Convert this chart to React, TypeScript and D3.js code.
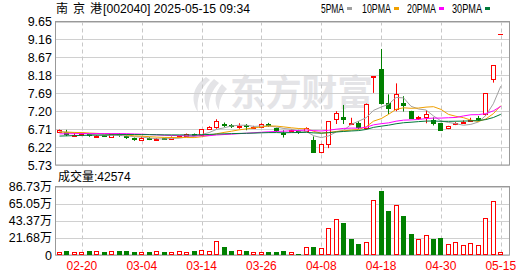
import React from "react";
import * as d3 from "d3";

const W = 530;
const H = 276;

const dates = [
  "02-17","02-18","02-19","02-20","02-21","02-24","02-25","02-26","02-27","02-28",
  "03-03","03-04","03-05","03-06","03-07","03-10","03-11","03-12","03-13","03-14",
  "03-17","03-18","03-19","03-20","03-21","03-24","03-25","03-26","03-27","03-28",
  "03-31","04-01","04-02","04-03","04-07","04-08","04-09","04-10","04-11","04-14",
  "04-15","04-16","04-17","04-18","04-21","04-22","04-23","04-24","04-25","04-28",
  "04-29","04-30","05-06","05-07","05-08","05-09","05-12","05-13","05-14","05-15",
];

const opens = [
  6.64,6.62,6.54,6.55,6.57,6.51,6.54,6.50,6.57,6.53,
  6.47,6.41,6.48,6.42,6.46,6.43,6.49,6.52,6.58,6.56,
  6.71,6.76,6.86,6.81,6.77,6.82,6.76,6.76,6.86,6.73,
  6.61,6.65,6.67,6.66,6.41,6.09,6.30,6.98,7.03,6.85,
  6.88,6.73,8.14,8.34,7.42,7.25,7.43,7.20,7.01,7.05,
  6.96,6.87,6.73,6.85,6.88,6.94,7.01,7.12,8.08,9.31,
];
const highs = [
  6.70,6.69,6.60,6.59,6.58,6.55,6.55,6.58,6.60,6.54,
  6.48,6.51,6.49,6.47,6.47,6.51,6.53,6.59,6.59,6.71,
  6.79,6.98,6.89,6.85,6.87,6.85,6.80,6.87,6.88,6.75,
  6.68,6.70,6.69,6.76,6.51,6.31,6.93,7.20,7.37,7.02,
  6.93,7.41,8.15,8.90,7.66,7.96,7.61,7.21,7.07,7.23,
  7.03,6.88,6.80,6.90,6.95,7.02,7.07,7.69,8.46,9.31,
];
const lows = [
  6.62,6.52,6.50,6.52,6.50,6.50,6.50,6.48,6.50,6.44,
  6.39,6.40,6.41,6.41,6.42,6.42,6.47,6.51,6.52,6.55,
  6.69,6.72,6.77,6.74,6.72,6.68,6.74,6.75,6.77,6.63,
  6.48,6.62,6.58,6.63,6.06,6.05,6.19,6.85,6.85,6.82,
  6.70,6.70,7.70,7.38,7.12,7.20,7.19,6.99,6.96,6.87,
  6.81,6.66,6.71,6.82,6.85,6.92,6.93,7.07,7.98,9.31,
];
const closes = [
  6.69,6.55,6.56,6.57,6.52,6.53,6.52,6.57,6.54,6.47,
  6.41,6.48,6.43,6.45,6.43,6.50,6.51,6.58,6.53,6.70,
  6.76,6.94,6.80,6.78,6.80,6.76,6.78,6.85,6.79,6.66,
  6.55,6.69,6.60,6.73,6.07,6.30,6.93,7.14,6.96,6.87,
  6.73,7.41,8.15,7.40,7.26,7.66,7.35,7.00,7.03,7.12,
  6.85,6.67,6.79,6.87,6.90,6.97,6.99,7.69,8.46,9.31,
];
// volumes in 万手
const volumes = [
  3.8,5.5,3.8,3.8,5.1,4.7,3.8,4.7,5.1,5.1,
  3.8,3.8,3.8,4.7,3.8,3.8,4.7,3.8,5.1,6.0,
  4.7,17.5,10.2,5.1,6.0,5.1,3.4,3.4,3.8,3.8,
  5.1,3.4,1.3,9.8,10.2,8.5,34.0,45.5,40.8,20.4,
  14.0,16.2,69.8,81.6,56.1,63.4,49.7,26.8,20.0,25.1,
  20.4,21.7,13.6,16.2,12.4,14.9,12.4,46.8,68.5,4.2574,
];
// closes before the visible window (used only for the moving averages)
const priorCloses = [
  6.35,6.38,6.40,6.37,6.42,6.40,6.43,6.41,6.39,6.45,
  6.48,6.50,6.52,6.55,6.51,6.53,6.56,6.54,6.52,6.57,
  6.60,6.63,6.61,6.65,6.62,6.64,6.60,6.63,6.65,
];

const priceTicks = [5.73, 6.22, 6.71, 7.20, 7.69, 8.18, 8.67, 9.16, 9.65];
const volTicks = [0, 21.68, 43.37, 65.05, 86.73];
const dateTicks = ["02-20","03-04","03-14","03-26","04-08","04-18","04-30","05-15"];
const maPeriods = [5, 10, 20, 30];
const maNames = ["5PMA", "10PMA", "20PMA", "30PMA"];
const maColors = ["#a0a0a0", "#f0a000", "#ff00ff", "#007a3a"];

const RED = "#ff0000";
const GREEN = "#008000";
const NUM_FONT = "'Liberation Sans', Arial, sans-serif";
const CJK_FONT = "'Noto Sans CJK SC', sans-serif";

const PL = 55.5, PR = 509.5;
const PT = 21.5, PB = 165;
const VT = 186.5, VB = 255;

export default function App() {
  const x = d3.scalePoint<string>().domain(dates).range([59.5, 500.8]);
  const y = d3.scaleLinear().domain([5.73, 9.65]).range([PB, PT]);
  const yv = d3.scaleLinear().domain([0, 86.73]).range([VB, VT]);

  const all = priorCloses.concat(closes);
  const off = priorCloses.length;
  const maData = maPeriods.map((p) =>
    closes.map((_, i) => {
      const k = i + off;
      return d3.mean(all.slice(k - p + 1, k + 1)) as number;
    })
  );
  const line = d3
    .line<number>()
    .x((_, i) => x(dates[i]) as number)
    .y((v) => y(v));

  const cx = (i: number) => Math.round((x(dates[i]) as number) - 2.5);

  return (
    <div style={{ position: "fixed", left: 0, top: 0 }}>
      <svg width={W} height={H} style={{ display: "block", background: "#fff" }}>
        {/* watermark */}
        <g fill="#e4e4e7">
          <path d="M206,77 C193,86 190,100 198,112 C196,100 200,88 210,80 Z" />
          <path d="M214,79 C203,89 202,101 209,111 C208,100 212,90 219,83 Z" />
          <path d="M222,84 C214,93 214,103 219,110 C219,101 222,94 227,89 Z" />
          <text x={230} y={106} fontSize={36} fontWeight="bold" fontFamily={CJK_FONT} textLength={143} lengthAdjust="spacingAndGlyphs">东方财富</text>
        </g>

        {/* price panel grid */}
        {priceTicks.map((t) => (
          <line key={"pg" + t} x1={PL} x2={PR} y1={Math.round(y(t)) + 0.5} y2={Math.round(y(t)) + 0.5} stroke="#d0d0d0" />
        ))}
        {dateTicks.map((d) => {
          const xx = Math.round(x(d) as number) + 0.5;
          return (
            <g key={"vg" + d}>
              <line x1={xx} x2={xx} y1={PT} y2={PB} stroke="#c8c8c8" strokeDasharray="4,3" />
              <line x1={xx} x2={xx} y1={VT} y2={VB} stroke="#c8c8c8" strokeDasharray="4,3" />
            </g>
          );
        })}
        <rect x={PL} y={PT} width={PR - PL} height={PB - PT} fill="none" stroke="#999" />

        {/* volume grid */}
        {volTicks.map((t) => (
          <line key={"vgl" + t} x1={PL} x2={PR} y1={Math.round(yv(t)) + 0.5} y2={Math.round(yv(t)) + 0.5} stroke="#d0d0d0" />
        ))}
        <rect x={PL} y={VT} width={PR - PL} height={VB - VT} fill="none" stroke="#999" />

        {/* candles */}
        {dates.map((d, i) => {
          const o = opens[i], c = closes[i], h = highs[i], l = lows[i];
          const x0 = cx(i);
          const xm = x0 + 2.5;
          const yo = y(o), yc = y(c), yh = y(h), yl = y(l);
          if (o === c) {
            return (
              <g key={"c" + d}>
                <line x1={xm} x2={xm} y1={yh} y2={yl} stroke={RED} />
                <line x1={x0} x2={x0 + 5} y1={Math.round(yc) + 0.5} y2={Math.round(yc) + 0.5} stroke={RED} />
              </g>
            );
          }
          if (c > o) {
            const top = Math.round(yc) + 0.5;
            const bot = Math.max(Math.round(yo) + 0.5, top + 1);
            return (
              <g key={"c" + d}>
                <line x1={xm} x2={xm} y1={yh} y2={top} stroke={RED} />
                <line x1={xm} x2={xm} y1={bot} y2={yl} stroke={RED} />
                <rect x={x0 + 0.5} y={top} width={4} height={bot - top} fill="#fff" stroke={RED} />
              </g>
            );
          }
          const top = Math.round(yo);
          const bot = Math.max(Math.round(yc), top + 2);
          return (
            <g key={"c" + d}>
              <line x1={xm} x2={xm} y1={yh} y2={yl} stroke={GREEN} />
              <rect x={x0} y={top} width={5} height={bot - top} fill={GREEN} />
            </g>
          );
        })}

        {/* moving averages */}
        {maData.map((m, k) => (
          <path key={"ma" + k} d={line(m) as string} fill="none" stroke={maColors[k]} strokeWidth={1} />
        ))}

        {/* volume bars */}
        {dates.map((d, i) => {
          const prev = i === 0 ? priorCloses[priorCloses.length - 1] : closes[i - 1];
          const up = closes[i] >= prev;
          const x0 = cx(i);
          const top = Math.round(yv(volumes[i]));
          const bot = Math.round(yv(0));
          if (up) {
            return (
              <rect key={"v" + d} x={x0 + 0.5} y={top + 0.5} width={4} height={Math.max(bot - top - 1, 1)} fill="#fff" stroke={RED} />
            );
          }
          return <rect key={"v" + d} x={x0} y={top} width={5} height={bot - top} fill={GREEN} />;
        })}

        {/* price axis labels */}
        {priceTicks.map((t) => (
          <text key={"pt" + t} x={52} y={y(t) + 4.5} textAnchor="end" fontSize={12.5} fontFamily={NUM_FONT} fill="#000">
            {t.toFixed(2)}
          </text>
        ))}
        {/* volume axis labels */}
        {volTicks.map((t) => (
          <text key={"vt" + t} x={52} y={yv(t) + 4.5} textAnchor="end" fontSize={12.5} fontFamily={NUM_FONT} fill="#000">
            {t === 0 ? "0" : t.toFixed(2)}
            {t === 0 ? null : <tspan fontFamily={CJK_FONT} fontSize={12}>万</tspan>}
          </text>
        ))}
        {/* date labels */}
        {dateTicks.map((d) => (
          <text key={"dt" + d} x={x(d) as number} y={270} textAnchor="middle" fontSize={12} fontFamily={NUM_FONT} fill={RED}>
            {d}
          </text>
        ))}

        {/* title */}
        <text x={56} y={13} fontSize={12} fontFamily={CJK_FONT} fill="#000" textLength={46} lengthAdjust="spacing">南 京 港</text>
        <text x={103} y={13} fontSize={12} fontFamily={NUM_FONT} fill="#000" textLength={147} lengthAdjust="spacingAndGlyphs">
          [002040] 2025-05-15 09:34
        </text>
        {/* legend */}
        {maNames.map((n, k) => {
          const lx = [321, 362, 407, 452][k];
          const tw = [23, 29, 29, 30][k];
          return (
            <g key={"lg" + n}>
              <text x={lx} y={12.5} fontSize={12} fontFamily={NUM_FONT} fill="#000" textLength={tw} lengthAdjust="spacingAndGlyphs">{n}</text>
              <rect x={lx + tw + 3} y={7} width={5} height={3} fill={maColors[k]} />
            </g>
          );
        })}

        {/* volume header */}
        <text x={58} y={181} fontSize={12} fontFamily={CJK_FONT} fill="#000">
          成交量<tspan fontFamily={NUM_FONT}>:42574</tspan>
        </text>
      </svg>
    </div>
  );
}
